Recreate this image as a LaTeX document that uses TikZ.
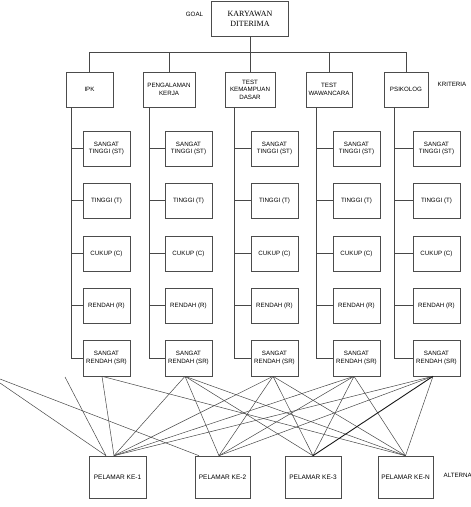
\documentclass[tikz,border=0pt]{standalone}
\usepackage{fontspec}
\setmainfont{Liberation Sans}
\newfontfamily\timesf{Liberation Serif}
\usetikzlibrary{calc}
\begin{document}
\begin{tikzpicture}[x=1pt,y=-1pt,
  box/.style={draw=black!70, line width=0.6pt, minimum width=47pt, minimum height=35pt, inner sep=0pt, align=center, font=\fontsize{6.2}{7.6}\selectfont},
  altbox/.style={box, minimum height=42pt, font=\fontsize{6.5}{8}\selectfont},
  lbl/.style={font=\fontsize{6.2}{7.6}\selectfont, inner sep=0pt},
  conn/.style={draw=black!72, line width=0.5pt},
  heavy/.style={draw=black!90, line width=0.9pt}]
\useasboundingbox (0,0) rectangle (471,507);

% goal
\node[box, minimum width=77pt, font=\timesf\fontsize{8}{9.8}\selectfont] (goal) at (250,18.5) {KARYAWAN\\DITERIMA};
\node[lbl] (goallbl) at (194.5,14.3) {GOAL};

% criteria
\node[box, minimum width=47pt] (ipk) at (89.5,89.5) {IPK};
\node[box, minimum width=52pt] (pk) at (169,89.5) {PENGALAMAN\\KERJA};
\node[box, minimum width=50pt] (tkd) at (250,89.5) {TEST\\KEMAMPUAN\\DASAR};
\node[box, minimum width=46pt] (tw) at (329,89.5) {TEST\\WAWANCARA};
\node[box, minimum width=44pt] (psi) at (406,89.5) {PSIKOLOG};
\node[lbl] (kritlbl) at (452,84.5) {KRITERIA};

% bus
\coordinate (bus) at (0,52);
\draw[conn] (goal.south) -- (goal.south |- bus);
\draw[conn] (ipk.north) -- (ipk.north |- bus) -- (psi.north |- bus) -- (psi.north);
\draw[conn] (pk.north) -- (pk.north |- bus);
\draw[conn] (tkd.north) -- (tkd.north |- bus);
\draw[conn] (tw.north) -- (tw.north |- bus);

% sub criteria boxes
\foreach \c/\x in {1/106.5, 2/188.5, 3/274.5, 4/356.5, 5/436.5} {
  \node[box] (st\c) at (\x,148.5) {SANGAT\\TINGGI (ST)};
  \node[box] (t\c)  at (\x,200.5) {TINGGI (T)};
  \node[box] (c\c)  at (\x,253.5) {CUKUP (C)};
  \node[box] (r\c)  at (\x,305.5) {RENDAH (R)};
  \node[box, minimum height=36pt] (sr\c) at (\x,358) {SANGAT\\RENDAH (SR)};
}

% spines
\coordinate (sp1) at (71,0);
\coordinate (sp2) at (149,0);
\coordinate (sp3) at (234,0);
\coordinate (sp4) at (316,0);
\coordinate (sp5) at (394,0);
\draw[conn] (sp1 |- ipk.south) -- (sp1 |- sr1.west);
\draw[conn] (sp2 |- pk.south) -- (sp2 |- sr2.west);
\draw[conn] (sp3 |- tkd.south) -- (sp3 |- sr3.west);
\draw[conn] (sp4 |- tw.south) -- (sp4 |- sr4.west);
\draw[conn] (sp5 |- psi.south) -- (sp5 |- sr5.west);
\foreach \c in {1,...,5} {
  \foreach \n in {st,t,c,r,sr} {
    \draw[conn] (sp\c |- \n\c.west) -- (\n\c.west);
  }
}

% alternatives
\node[altbox, minimum width=57pt] (a1) at (117.5,477) {PELAMAR KE-1};
\node[altbox, minimum width=55pt] (a2) at (222.5,477) {PELAMAR KE-2};
\node[altbox, minimum width=56pt] (a3) at (313,477) {PELAMAR KE-3};
\node[altbox, minimum width=55pt] (aN) at (405.5,477) {PELAMAR KE-N};
\node[lbl, anchor=west] (altlbl) at (443.5,475) {ALTERNA};

% connection points
\coordinate (A1) at ($(sr1.south)+(-4.5,0)$);
\coordinate (A2) at ($(sr2.south)+(-3.5,0)$);
\coordinate (A3) at ($(sr3.south)+(-1.5,0)$);
\coordinate (A4) at ($(sr4.south)+(-2.5,0)$);
\coordinate (A5) at ($(sr5.south)+(-3.5,0)$);
\coordinate (P1a) at ($(a1.north)+(-11.5,0)$);
\coordinate (P1b) at ($(a1.north)+(-3.5,0)$);
\coordinate (P2a) at ($(a2.north)+(-23.5,0)$);
\coordinate (P2b) at ($(a2.north)+(-3.5,0)$);
\coordinate (P3) at (a3.north);
\coordinate (PN) at (aN.north);
\coordinate (e1) at (0,379);
\coordinate (e2) at (0,383);
\coordinate (e3) at (65,377);

\draw[conn] (e1) -- (P2a);
\draw[conn] (e2) -- (P1a);
\draw[conn] (e3) -- (P1a);
\draw[conn] (A1) -- (P1b);
\draw[conn] (A1) -- (PN);
\foreach \s in {A2,A3,A4} {
  \draw[conn] (\s) -- (P1b);
  \draw[conn] (\s) -- (P2b);
  \draw[conn] (\s) -- (P3);
  \draw[conn] (\s) -- (PN);
}
\draw[conn] (A5) -- (P1b);
\draw[conn] (A5) -- (P2b);
\draw[conn] (A5) -- (PN);
\draw[heavy] (A5) -- (P3);
\end{tikzpicture}
\end{document}
